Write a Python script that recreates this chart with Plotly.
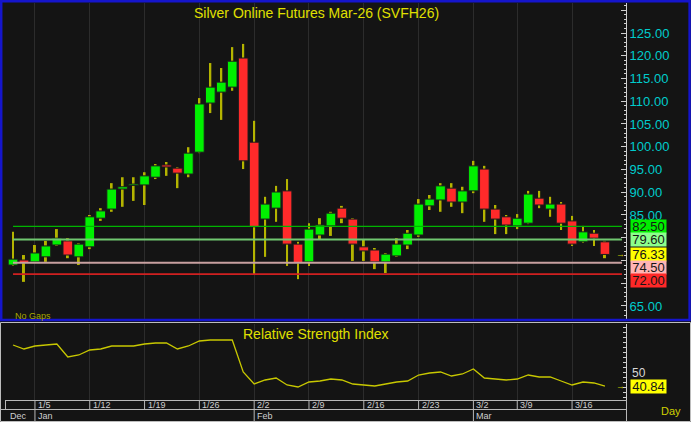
import plotly.graph_objects as go

W, H = 691, 422

# ---------------- data ----------------
dates = ['12/31', '1/2',
         '1/5', '1/6', '1/7', '1/8', '1/9',
         '1/12', '1/13', '1/14', '1/15', '1/16',
         '1/19', '1/20', '1/21', '1/22', '1/23',
         '1/26', '1/27', '1/28', '1/29', '1/30',
         '2/2', '2/3', '2/4', '2/5', '2/6',
         '2/9', '2/10', '2/11', '2/12', '2/13',
         '2/16', '2/17', '2/18', '2/19', '2/20',
         '2/23', '2/24', '2/25', '2/26', '2/27',
         '3/2', '3/3', '3/4', '3/5',
         '3/9', '3/10', '3/11', '3/12', '3/13',
         '3/16', '3/17', '3/18', '3/19']

opens = [74.0, 75.1, 74.7, 75.8, 78.4, 79.3, 75.8, 78.0, 84.3, 86.3,
         90.7, 91.5, 91.6, 93.3, 96.0, 95.3, 94.0, 98.8, 109.6, 112.0,
         113.1, 119.5, 101.0, 84.1, 86.5, 90.3, 78.6, 74.7, 80.6, 82.6,
         86.5, 84.1, 78.0, 77.3, 74.7, 76.0, 78.4, 80.6, 87.0, 88.3,
         90.9, 87.85, 90.3, 95.1, 86.3, 84.6, 82.6, 83.2, 88.7, 86.3,
         87.4, 83.7, 79.1, 81.0, 79.1]
highs = [81.3, 76.2, 78.4, 79.3, 81.9, 79.9, 78.8, 85.0, 86.5, 92.0,
         93.3, 93.3, 94.4, 96.2, 96.65, 95.5, 99.9, 110.7, 118.4, 117.3,
         121.9, 122.6, 105.7, 89.0, 91.4, 92.9, 79.1, 83.2, 84.3, 85.7,
         87.0, 84.3, 79.7, 77.75, 76.65, 79.9, 81.7, 88.5, 89.4, 92.0,
         92.0, 91.2, 96.9, 95.8, 87.2, 85.0, 85.2, 90.3, 90.3, 89.0,
         87.85, 84.8, 82.6, 81.7, 79.3]
lows = [73.8, 70.3, 74.5, 74.7, 78.2, 75.5, 74.0, 77.5, 83.7, 85.7,
        86.8, 88.1, 87.2, 92.9, 93.6, 90.9, 93.3, 98.6, 107.4, 105.9,
        112.3, 95.1, 72.0, 75.8, 83.5, 73.8, 70.9, 73.8, 79.5, 80.4,
        83.2, 74.9, 74.9, 73.1, 72.25, 75.8, 77.5, 80.2, 86.1, 85.7,
        86.8, 85.4, 89.8, 83.5, 80.8, 80.8, 81.9, 83.0, 86.5, 84.6,
        81.7, 78.2, 78.9, 78.2, 75.5]
closes = [75.3, 74.5, 76.65, 78.2, 79.9, 76.2, 78.6, 84.6, 85.9, 90.7,
          91.2, 91.6, 93.6, 95.8, 95.55, 94.2, 98.6, 109.4, 113.1, 114.2,
          118.8, 96.9, 82.4, 87.4, 90.05, 78.6, 74.45, 81.9, 82.8, 85.4,
          84.3, 78.6, 77.1, 74.7, 76.4, 78.6, 81.0, 87.4, 88.5, 91.4,
          87.85, 90.3, 95.8, 86.3, 84.1, 82.8, 84.3, 89.6, 87.2, 87.4,
          83.2, 78.6, 81.3, 79.9, 76.33]
rsi = [82, 78, 81, 82, 83, 70, 72, 77, 78, 81,
       81, 81, 83, 84, 84, 78, 81, 86, 87, 87,
       87, 55, 43, 47, 49, 42, 40, 45, 46, 48,
       47, 43, 42, 41, 43, 45, 46, 52, 54, 55,
       51, 53, 58, 49, 48, 47, 48, 52, 50, 50,
       46, 42, 45, 44, 40.84]

week_ticks = ['1/5', '1/12', '1/19', '1/26', '2/2', '2/9', '2/16', '2/23', '3/2', '3/9', '3/16']
month_first = 'Dec'
month_names = ['Jan', 'Feb', 'Mar']
month_starts = ['1/5', '2/2', '3/2']

levels = [82.50, 79.60, 74.50, 72.00]
level_line_colors = ['#00b400', '#70c870', '#c8a0a0', '#d02020']
level_line_widths = [1.2, 2, 2, 1.6]
level_box_colors = ['#00ee00', '#8cff8c', '#ffb4b4', '#ff2828']
level_shift = [0, 0, -4.7, -6.8]
hidden_labels = ['130.00', '80.00', '75.00', '70.00']

title = 'Silver Online Futures Mar-26 (SVFH26)'
rsi_title = 'Relative Strength Index'


# ---------------- helpers ----------------
def px(x):
    return x / W


def py(y):
    return 1 - y / H


xs = list(range(len(dates)))
tick_idx = [dates.index(d) for d in week_ticks]
month_idx = [dates.index(d) for d in month_starts]

body_base = [min(o, c) for o, c in zip(opens, closes)]
body_h = [max(abs(c - o), 0.3) for o, c in zip(opens, closes)]
body_col = ['#00f000' if c >= o else '#ff2a2a' for o, c in zip(opens, closes)]
wick_h = [h - l for h, l in zip(highs, lows)]

XR = [-0.64, 55.92]
YR = [62.14, 131.593]
RR = [27, 103]
XDOM = [px(6), px(626)]
YDOM = [py(319), py(3)]
RDOM = [py(400), py(324)]

FONT = 'Liberation Sans, Arial, sans-serif'
AXC = '#cfcfcf'
BG = '#141414'

fig = go.Figure()

fig.add_trace(go.Bar(x=xs, y=wick_h, base=lows, width=0.18,
                     marker=dict(color='#b4b400', line=dict(width=0)),
                     xaxis='x', yaxis='y', hoverinfo='skip'))
fig.add_trace(go.Bar(x=xs, y=body_h, base=body_base, width=0.88,
                     marker=dict(color=body_col, line=dict(color='#1c1c1c', width=1)),
                     xaxis='x', yaxis='y', hoverinfo='skip'))
fig.add_trace(go.Scatter(x=xs, y=rsi, mode='lines',
                         line=dict(color='#c8c800', width=1.3),
                         xaxis='x2', yaxis='y4', hoverinfo='skip'))

common_x = dict(range=XR, domain=XDOM, tickmode='array', tickvals=tick_idx,
                showticklabels=False, ticks='', showgrid=True, gridcolor='#2c2c2c',
                gridwidth=1, zeroline=False, showline=False, fixedrange=True)

fig.update_layout(
    width=W, height=H, margin=dict(l=0, r=0, t=0, b=0),
    paper_bgcolor=BG, plot_bgcolor=BG, showlegend=False,
    barmode='overlay', font=dict(family=FONT),
    xaxis=dict(anchor='y', **common_x),
    xaxis2=dict(anchor='y4', matches='x', **common_x),
    yaxis=dict(anchor='x', domain=YDOM, range=YR, side='right',
               tickmode='linear', tick0=0, dtick=5, tickformat='.2f',
               labelalias={k: ' ' for k in hidden_labels},
               ticks='inside', ticklen=5, tickwidth=1, tickcolor=AXC,
               minor=dict(tickmode='linear', tick0=0, dtick=1, ticks='inside',
                          ticklen=2, tickcolor=AXC, showgrid=False),
               showline=True, linecolor=AXC, linewidth=1, showgrid=False,
               zeroline=False, tickfont=dict(color='#00cccc', size=13, family=FONT)),
    yaxis2=dict(anchor='x', overlaying='y', side='left', range=YR,
                tickmode='linear', tick0=0, dtick=5, ticks='inside', ticklen=5,
                tickcolor=AXC, minor=dict(tickmode='linear', tick0=0, dtick=1, ticks='inside',
                                          ticklen=2, tickcolor=AXC, showgrid=False),
                showticklabels=False, showline=True, linecolor=AXC, linewidth=1,
                showgrid=False, zeroline=False),
    yaxis3=dict(anchor='x', overlaying='y', side='left', range=YR,
                tickmode='linear', tick0=0, dtick=10, ticks='', showticklabels=False,
                showline=False, showgrid=True, gridcolor='#3a3a3a', griddash='dot',
                gridwidth=1, zeroline=False),
    yaxis4=dict(anchor='x2', domain=RDOM, range=RR, side='right',
                tickmode='linear', tick0=0, dtick=5, ticks='inside', ticklen=3,
                tickcolor=AXC, showticklabels=False, showline=True, linecolor=AXC,
                linewidth=1, showgrid=False, zeroline=False),
    yaxis5=dict(anchor='x2', overlaying='y4', side='left', range=RR,
                tickmode='linear', tick0=0, dtick=5, ticks='inside', ticklen=3,
                tickcolor=AXC, showticklabels=False, showline=True, linecolor=AXC,
                linewidth=1, showgrid=False, zeroline=False),
)

shapes = []
# level lines
for lv, c, w in zip(levels, level_line_colors, level_line_widths):
    shapes.append(dict(type='line', xref='x', yref='y', x0=xs[0], x1=xs[-1] + 1.55,
                       y0=lv, y1=lv, line=dict(color=c, width=w)))
# frames
shapes.append(dict(type='rect', xref='paper', yref='paper', x0=px(1.2), x1=px(689.6),
                   y0=py(1.2), y1=py(320), line=dict(color='#1515cc', width=2.5)))
shapes.append(dict(type='rect', xref='paper', yref='paper', x0=px(0.5), x1=px(690.5),
                   y0=py(322.5), y1=py(421.5), line=dict(color='#bdbdbd', width=1)))
shapes.append(dict(type='line', xref='paper', yref='paper', x0=px(6), x1=px(627),
                   y0=py(400.5), y1=py(400.5), line=dict(color='#b8b8b8', width=1)))
shapes.append(dict(type='line', xref='paper', yref='paper', x0=px(0), x1=px(627),
                   y0=py(409.5), y1=py(409.5), line=dict(color='#b8b8b8', width=1)))
shapes.append(dict(type='line', xref='paper', yref='paper', x0=px(626.5), x1=px(626.5),
                   y0=py(400), y1=py(422), line=dict(color='#b8b8b8', width=1)))
shapes.append(dict(type='line', xref='paper', yref='paper', x0=px(5.5), x1=px(5.5),
                   y0=py(400), y1=py(409.5), line=dict(color='#b8b8b8', width=1)))
for t in tick_idx:
    shapes.append(dict(type='line', xref='x2', yref='paper', x0=t, x1=t,
                       y0=py(400.5), y1=py(409.5), line=dict(color='#b8b8b8', width=1)))
for m in month_idx:
    shapes.append(dict(type='line', xref='x2', yref='paper', x0=m, x1=m,
                       y0=py(409.5), y1=py(422), line=dict(color='#b8b8b8', width=1)))
fig.update_layout(shapes=shapes)


def note(text, x, y, xref='paper', yref='paper', xanchor='center', size=9,
         color='#cfcfcf', **kw):
    return dict(text=text, xref=xref, yref=yref, x=x, y=y, xanchor=xanchor,
                yanchor='middle', showarrow=False,
                font=dict(color=color, size=size, family=FONT), **kw)


ann = []
ann.append(note(title, px(316), py(13), size=14, color='#e0e000'))
ann.append(note(rsi_title, px(316), py(334), size=14, color='#e0e000'))
ann.append(note('No Gaps', px(13), py(315.5), xanchor='left', size=9, color='#a8a800'))
# level boxes (levels + last close)
box_vals = [levels[0], levels[1], closes[-1], levels[2], levels[3]]
box_cols = [level_box_colors[0], level_box_colors[1], '#ffff00', level_box_colors[2], level_box_colors[3]]
box_shift = [level_shift[0], level_shift[1], 0, level_shift[2], level_shift[3]]
for v, c, s in zip(box_vals, box_cols, box_shift):
    ann.append(note(f'{v:.2f}', px(629.5), v, yref='y', xanchor='left', size=13,
                    color='#151515', yshift=s, bgcolor=c, width=35, height=13, borderpad=0))
ann.append(note('→', px(620), closes[-1], yref='y', size=9, color='#c8c800'))
ann.append(note('50', px(629.5), 50, yref='y4', xanchor='left', size=12,
                color='#d8d8d8', yshift=4))
ann.append(note(f'{rsi[-1]:.2f}', px(629.5), rsi[-1], yref='y4', xanchor='left', size=13,
                color='#151515', bgcolor='#ffff00', width=35, height=13, borderpad=0))
ann.append(note('→', px(620), rsi[-1], yref='y4', size=9, color='#c8c800'))
for t, lab in zip(tick_idx, week_ticks):
    ann.append(note(lab, t, py(405.2), xref='x2', xanchor='left', xshift=1))
ann.append(note(month_first, px(18), py(415.5)))
for m, lab in zip(month_idx, month_names):
    ann.append(note(lab, m, py(415.5), xref='x2', xanchor='left', xshift=1))
ann.append(note('Day', px(671), py(411), size=11, color='#d0d000'))
fig.update_layout(annotations=ann)

fig.write_html('out.html', config={'displayModeBar': False},
               post_script="document.body.style.margin='0';document.body.style.padding='0';"
                           "document.body.style.overflow='hidden';"
                           "document.documentElement.style.background='#141414';")
